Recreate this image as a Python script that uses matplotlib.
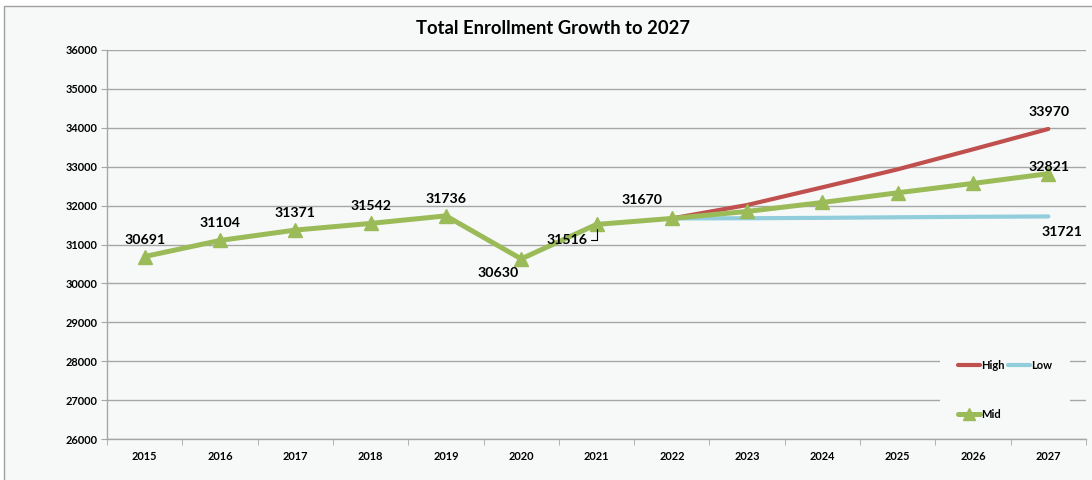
import numpy as np
import matplotlib
matplotlib.use('Agg')
import matplotlib.pyplot as plt
from matplotlib.patches import Rectangle

years = ['2015', '2016', '2017', '2018', '2019', '2020', '2021',
         '2022', '2023', '2024', '2025', '2026', '2027']
mid = [30691, 31104, 31371, 31542, 31736, 30630, 31516,
       31670, 31850, 32080, 32330, 32570, 32821]
# projections branch off at 2022
high = [31670, 32015, 32470, 32933, 33447, 33970]
low = [31670, 31675, 31685, 31700, 31712, 31721]
proj_start = 7

# label offsets in pixels (dx, dy; +dy is up)
mid_labels = {0: (0, 17), 1: (0, 17), 2: (0, 17), 3: (0, 17), 4: (0, 17),
              5: (-23, -14), 7: (-30, 18), 12: (1, 7)}

BG = '#F7F9F9'
GREEN = '#9BBB59'
RED = '#C0504D'
BLUE = '#92CDDC'
GRID = '#A6A6A6'
FONT = 'Lato'

plt.rcParams['font.family'] = [FONT, 'DejaVu Sans']
fig = plt.figure(figsize=(10.92, 4.8), dpi=100)
fig.patch.set_facecolor('white')
fig.patches.append(Rectangle((4 / 1092, -0.1), 2, 1 - 6 / 480 + 0.1,
                             transform=fig.transFigure, facecolor=BG,
                             edgecolor='#A0A0A0', lw=1, zorder=-10))

ax = fig.add_axes([107 / 1092, 1 - 439 / 480, 979 / 1092, 389 / 480])
ax.set_facecolor('none')

x = np.arange(len(years))
xp = x[proj_start:]
ax.plot(xp, high, color=RED, lw=3, solid_capstyle='round', label='High', zorder=3)
ax.plot(xp, low, color=BLUE, lw=3, solid_capstyle='round', label='Low', zorder=3)
ax.plot(x, mid, color=GREEN, lw=3.6, marker='^', ms=10, mec=GREEN,
        solid_capstyle='round', label='Mid', zorder=4)

ax.set_xlim(-0.5, len(years) - 0.5)
ax.set_ylim(26000, 36000)
ax.set_yticks(np.arange(26000, 36001, 1000))
ax.set_xticks(x)
ax.set_xticklabels(years)
ax.set_xticks(np.arange(-0.5, len(years)), minor=True)
ax.tick_params(axis='x', which='major', length=0, pad=9)
ax.tick_params(axis='x', which='minor', length=4, color=GRID, direction='out')
ax.tick_params(axis='y', length=4, color=GRID, direction='out', pad=3)
for lbl in ax.get_xticklabels() + ax.get_yticklabels():
    lbl.set_fontsize(7.9)
    lbl.set_fontweight('bold')

ax.grid(axis='y', color=GRID, lw=1)
ax.set_axisbelow(True)
for s in ['top', 'right']:
    ax.spines[s].set_visible(False)
for s in ['left', 'bottom']:
    ax.spines[s].set_color(GRID)
    ax.spines[s].set_linewidth(1)

PX = 0.72
lab_kw = dict(textcoords='offset points', ha='center', va='center',
              fontsize=10.2, fontweight='bold', color='black', zorder=6)
for i, (dx, dy) in mid_labels.items():
    ax.annotate(str(mid[i]), (x[i], mid[i]), xytext=(dx * PX, dy * PX), **lab_kw)
# 2021 label with leader line
ax.annotate(str(mid[6]), (x[6], mid[6]), xytext=(-29 * PX, -16 * PX),
            arrowprops=dict(arrowstyle='-', color='black', lw=0.8,
                            connectionstyle='angle,angleA=0,angleB=90,rad=0',
                            shrinkA=0, shrinkB=3), **lab_kw)
ax.annotate(str(high[-1]), (xp[-1], high[-1]), xytext=(1 * PX, 17 * PX), **lab_kw)
ax.annotate(str(low[-1]), (xp[-1], low[-1]), xytext=(14 * PX, -16 * PX), **lab_kw)

fig.text(553 / 1092, 1 - 28 / 480, 'Total Enrollment Growth to 2027',
         ha='center', va='center', fontsize=13.2, fontweight='bold')

h = {l.get_label(): l for l in ax.get_lines()}
leg = ax.legend([h['High'], h['Mid'], h['Low']], ['High', 'Mid', 'Low'], ncol=2,
                loc='lower left', bbox_to_anchor=(0.845, -0.01),
                frameon=True, fancybox=False, facecolor=BG, edgecolor='none',
                framealpha=1, prop=dict(family=FONT, size=8, weight='bold'),
                handlelength=2.0, handletextpad=0.1, columnspacing=0.3,
                labelspacing=3.4, borderpad=1.6, markerscale=0.9)
leg.set_zorder(7)

fig.savefig('out.png', dpi=100, facecolor=fig.get_facecolor())
